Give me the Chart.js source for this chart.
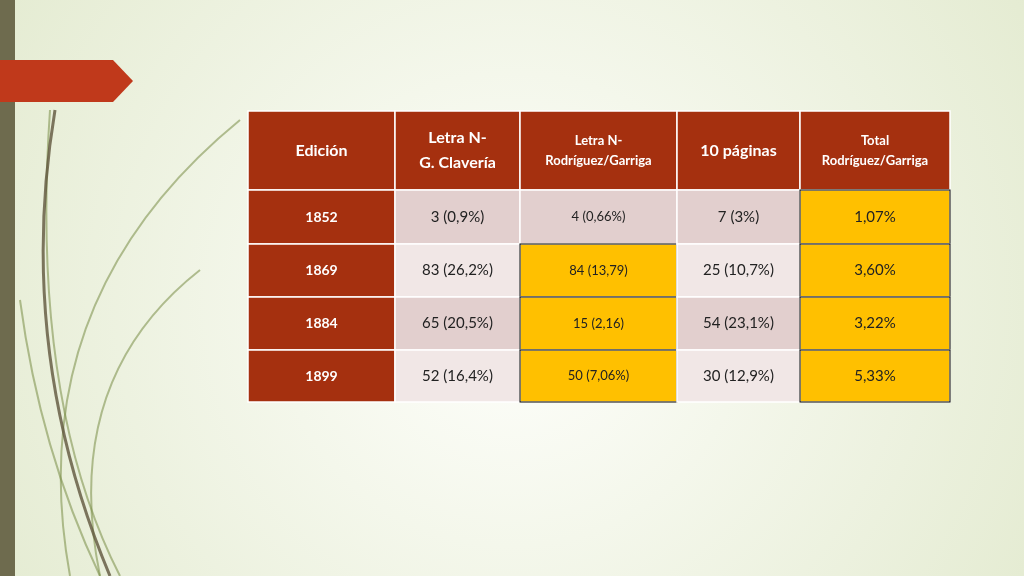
<!DOCTYPE html>
<html><head><meta charset="utf-8">
<script src="https://cdn.jsdelivr.net/npm/chart.js@4"></script>
<style>html,body{margin:0;padding:0;overflow:hidden}</style>
</head><body>
<canvas id="c" width="1024" height="576"></canvas>
<script>
// table content
const headers = ["Edición", "Letra N-\nG. Clavería", "Letra N-\nRodríguez/Garriga", "10 páginas", "Total\nRodríguez/Garriga"];
const editions = ["1852", "1869", "1884", "1899"];
const clavería = ["3 (0,9%)", "83 (26,2%)", "65 (20,5%)", "52 (16,4%)"];
const rodGarriga = ["4 (0,66%)", "84 (13,79)", "15 (2,16)", "50 (7,06%)"];
const diezPaginas = ["7 (3%)", "25 (10,7%)", "54 (23,1%)", "30 (12,9%)"];
const totalRG = ["1,07%", "3,60%", "3,22%", "5,33%"];
// which cells are highlighted (column index -> rows)
const highlighted = { 2: [1, 2, 3], 4: [0, 1, 2, 3] };

// layout (pixels in scale units)
const colEdges = [248, 395, 520, 677, 800, 950];
const rowEdges = [111, 190, 244, 297, 350, 402];
const headerFont = [16, 16, 13, 16, 13];
const bodyFont = [14, 15, 13, 15, 15];

const RUST = "#A5300F", ROW_DARK = "#E2CFCE", ROW_LIGHT = "#F1E7E6", GOLD = "#FFC000";

const tablePlugin = {
  id: "table",
  beforeDraw(chart) {
    const ctx = chart.ctx, W = chart.width, H = chart.height;
    const g = ctx.createRadialGradient(W * 0.5, H * 0.55, 50, W * 0.5, H * 0.5, W * 0.75);
    g.addColorStop(0, "#FCFDF8"); g.addColorStop(1, "#DDE6C6");
    ctx.fillStyle = g; ctx.fillRect(0, 0, W, H);
    // decorative curves
    ctx.strokeStyle = "rgba(120,140,70,0.55)"; ctx.lineWidth = 2;
    [[50, 110, 30, 400, 120, 576], [200, 270, 60, 380, 100, 576], [240, 120, 20, 300, 70, 576], [20, 300, 40, 450, 100, 576]].forEach(p => {
      ctx.beginPath(); ctx.moveTo(p[0], p[1]); ctx.quadraticCurveTo(p[2], p[3], p[4], p[5]); ctx.stroke();
    });
    ctx.strokeStyle = "rgba(95,85,60,0.8)"; ctx.lineWidth = 3;
    ctx.beginPath(); ctx.moveTo(55, 110); ctx.quadraticCurveTo(15, 350, 110, 576); ctx.stroke();
    ctx.fillStyle = "#6E6B4E"; ctx.fillRect(0, 0, 15, H);
    ctx.fillStyle = "#C0391B";
    ctx.beginPath(); ctx.moveTo(0, 60); ctx.lineTo(113, 60); ctx.lineTo(133, 81); ctx.lineTo(113, 102); ctx.lineTo(0, 102); ctx.fill();
  },
  afterDraw(chart) {
    const ctx = chart.ctx, xs = chart.scales.x, ys = chart.scales.y;
    const cols = [editions, clavería, rodGarriga, diezPaginas, totalRG];
    const cell = (c, r, fill, text, font, color, bold) => {
      const x0 = xs.getPixelForValue(colEdges[c]), x1 = xs.getPixelForValue(colEdges[c + 1]);
      const y0 = ys.getPixelForValue(rowEdges[r]), y1 = ys.getPixelForValue(rowEdges[r + 1]);
      ctx.fillStyle = fill; ctx.fillRect(x0, y0, x1 - x0, y1 - y0);
      ctx.strokeStyle = "#FFFFFF"; ctx.lineWidth = 1.5; ctx.strokeRect(x0, y0, x1 - x0, y1 - y0);
      ctx.fillStyle = color; ctx.textAlign = "center"; ctx.textBaseline = "middle";
      ctx.font = (bold ? "bold " : "") + font + "px Lato, 'DejaVu Sans', sans-serif";
      const lines = text.split("\n"), lh = font * 1.55, cy = (y0 + y1) / 2;
      lines.forEach((l, i) => ctx.fillText(l, (x0 + x1) / 2, cy + (i - (lines.length - 1) / 2) * lh));
    };
    headers.forEach((h, c) => cell(c, 0, RUST, h, headerFont[c], "#FFFFFF", true));
    cols.forEach((vals, c) => vals.forEach((v, r) => {
      if (c === 0) { cell(c, r + 1, RUST, v, bodyFont[c], "#FFFFFF", true); return; }
      const hl = (highlighted[c] || []).includes(r);
      cell(c, r + 1, hl ? GOLD : (r % 2 ? ROW_LIGHT : ROW_DARK), v, bodyFont[c], "#222222", false);
      if (hl) {
        const x0 = xs.getPixelForValue(colEdges[c]), x1 = xs.getPixelForValue(colEdges[c + 1]);
        const y0 = ys.getPixelForValue(rowEdges[r + 1]), y1 = ys.getPixelForValue(rowEdges[r + 2]);
        ctx.strokeStyle = "#000"; ctx.lineWidth = 1; ctx.strokeRect(x0, y0, x1 - x0, y1 - y0);
      }
    }));
  }
};

new Chart(document.getElementById("c"), {
  type: "scatter",
  data: { datasets: [{ data: [] }] },
  options: {
    responsive: false, animation: false,
    layout: { padding: 0 },
    plugins: { legend: { display: false }, tooltip: { enabled: false } },
    scales: {
      x: { type: "linear", min: 0, max: 1024, display: false },
      y: { type: "linear", min: 0, max: 576, reverse: true, display: false }
    }
  },
  plugins: [tablePlugin]
});
</script>
</body></html>
